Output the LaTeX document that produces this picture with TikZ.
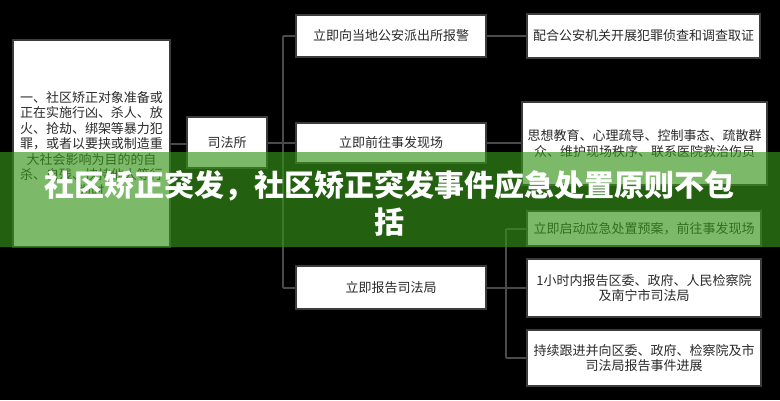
\documentclass[tikz,border=0pt]{standalone}
\usepackage{fontspec}
\setmainfont{Noto Sans CJK SC}
\definecolor{boxgray}{HTML}{3C3C3C}
\definecolor{linkgray}{HTML}{4A4A4A}
\definecolor{bannergreen}{RGB}{54,148,25}
\definecolor{boxtext}{HTML}{2A2A2A}
\begin{document}
\begin{tikzpicture}[x=1pt,y=-1pt,
  box/.style={draw=boxgray, line width=2pt, fill=white, inner sep=0pt,
    font=\fontsize{13}{15.5}\selectfont, align=center, text=boxtext},
  link/.style={draw=linkgray, line width=2pt}]
\useasboundingbox[fill=black] (0,0) rectangle (780,400);
% boxes
\node[box, minimum width=157, minimum height=207] (L) at (91.5,143.5)
  {一、社区矫正对象准备或\\正在实施行凶、杀人、放\\火、抢劫、绑架等暴力犯\\罪，或者以要挟或制造重\\大社会影响为目的的自\\杀、自残、挟持他人等行\\为时};
\node[box, minimum width=80, minimum height=51] (S) at (227,142.5) {司法所};
\node[box, minimum width=190, minimum height=42] (M1) at (391,36) {立即向当地公安派出所报警};
\node[box, minimum width=190, minimum height=40] (M2) at (391,143) {立即前往事发现场};
\node[box, minimum width=190, minimum height=43] (M3) at (391,287.5) {立即报告司法局};
\node[box, minimum width=233, minimum height=44] (R1) at (643.5,36) {配合公安机关开展犯罪侦查和调查取证};
\node[box, minimum width=245, minimum height=83] (R2) at (644.5,143.5) {思想教育、心理疏导、控制事态、疏散群\\众、维护现场秩序、联系医院救治伤员};
\node[box, minimum width=234, minimum height=35] (R3) at (644,228.5) {立即启动应急处置预案，前往事发现场};
\node[box, minimum width=234, minimum height=58] (R4) at (644,288) {1小时内报告区委、政府、人民检察院\\及南宁市司法局};
\node[box, minimum width=234, minimum height=56] (R5) at (644,358) {持续跟进并向区委、政府、检察院及市\\司法局报告事件进展};
% connectors
\coordinate (b1) at (283,0);
\coordinate (b2) at (506,0);
\draw[link] (L.east) -- (L.east -| S.west);
\draw[link] (S.east) -- (b1 |- S.east);
\draw[link] (b1 |- M1.west) -- (b1 |- M3.west);
\draw[link] (b1 |- M1.west) -- (M1.west);
\draw[link] (b1 |- M2.west) -- (M2.west);
\draw[link] (b1 |- M3.west) -- (M3.west);
\draw[link] (M1.east) -- (M1.east -| R1.west);
\draw[link] (M2.east) -- (M2.east -| R2.west);
\draw[link] (M3.east) -- (b2 |- M3.east);
\draw[link] (b2 |- R3.west) -- (b2 |- R5.west);
\draw[link] (b2 |- R3.west) -- (R3.west);
\draw[link] (b2 |- R4.west) -- (R4.west);
\draw[link] (b2 |- R5.west) -- (R5.west);
% banner
\fill[bannergreen, opacity=0.65] (0,152) rectangle (780,247);
\node[font=\bfseries\fontsize{30}{37}\selectfont, text=white, align=center, inner sep=0pt] (T) at (390,203.5)
  {社区矫正突发，社区矫正突发事件应急处置原则不包\\括};
\end{tikzpicture}
\end{document}
